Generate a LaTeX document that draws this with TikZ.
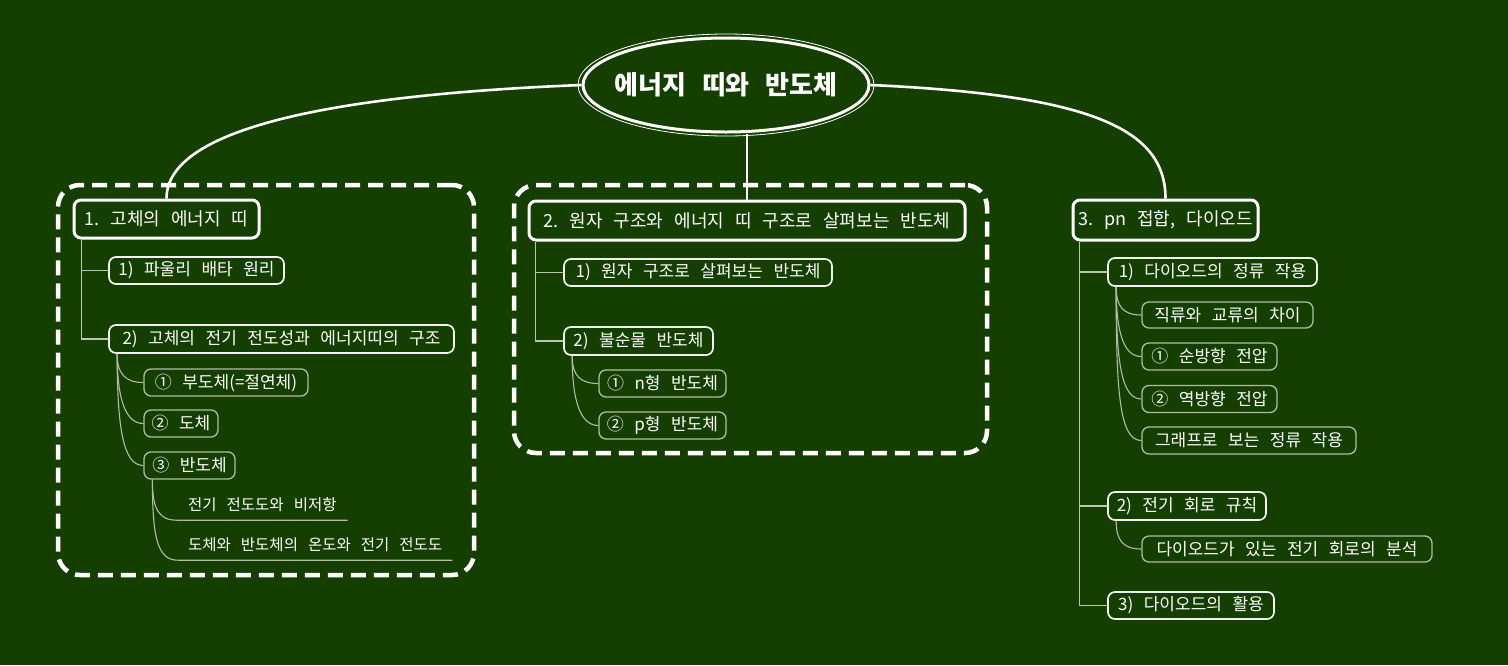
\documentclass[tikz,border=0pt]{standalone}
\usepackage{fontspec}
\setmainfont{Noto Sans CJK KR}
\usetikzlibrary{shapes.geometric}
\definecolor{bg}{HTML}{143F00}
\definecolor{lineg}{HTML}{BCC6B4}
\definecolor{subg}{HTML}{B0BCA8}
\frenchspacing
\newcommand\myrootfont{\fontsize{26}{30}\selectfont\bfseries\spaceskip 16pt\relax}
\newcommand\mytopfont{\fontsize{18}{21}\selectfont\spaceskip 11pt\relax}
\newcommand\mychildfont{\fontsize{17}{20}\selectfont\spaceskip 10.5pt\relax}
\newcommand\myulfont{\fontsize{15.5}{18}\selectfont\spaceskip 10pt\relax}
\begin{document}
\begin{tikzpicture}[x=1pt,y=-1pt,
  topbox/.style={draw=white,line width=3pt,rounded corners=7pt,text=white,
    font=\mytopfont,inner sep=0pt},
  childbox/.style={draw=white!94!bg,line width=1.7pt,rounded corners=7pt,text=white,
    font=\mychildfont,inner sep=0pt},
  subbox/.style={draw=subg,line width=1.3pt,rounded corners=7pt,text=white,
    font=\mychildfont,inner sep=0pt},
  ultext/.style={text=white,font=\myulfont,inner ysep=0pt,
    minimum height=30pt,anchor=west},
  mainconn/.style={draw=white,line width=2.6pt},
  childconn/.style={draw=lineg,line width=1.6pt},
  subconn/.style={draw=subg,line width=1.1pt},
  cloudframe/.style={draw=white,line width=4.5pt,dash pattern=on 15pt off 8pt,
    rounded corners=22pt,inner sep=0pt}
]
\fill[bg] (0,0) rectangle (1508,665);
\useasboundingbox (0,0) rectangle (1508,665);

% dashed group frames
\node[cloudframe,minimum width=416pt,minimum height=390pt] (g1) at (266,380) {};
\node[cloudframe,minimum width=473pt,minimum height=268pt] (g2) at (750.5,319) {};

% root
\node[ellipse,draw=white,line width=3pt,minimum width=286pt,minimum height=94pt,inner sep=0pt] (root) at (726,85) {};
\draw[white,line width=0.8pt] (root.center) ellipse [x radius=148, y radius=51];
\node[text=white,font=\myrootfont] (roottext) at (root.center) {에너지 띠와 반도체};

% top boxes
\node[topbox,minimum width=185pt,minimum height=38pt] (t1) at (166.5,219) {1. 고체의 에너지 띠};
\node[topbox,minimum width=436pt,minimum height=39pt] (t2) at (747,220.5) {2. 원자 구조와 에너지 띠 구조로 살펴보는 반도체};
\node[topbox,minimum width=185pt,minimum height=40pt] (t3) at (1165.5,220) {3. pn 접합, 다이오드};

% main connectors
\draw[mainconn] (root.west) .. controls +(-250,10) and +(0,-70) .. (t1.north);
\draw[mainconn] (t2.north) -- (t2.north |- root.south);
\draw[mainconn] (root.east) .. controls +(220,10) and +(0,-70) .. (t3.north);

% group 1
\node[childbox,minimum width=175pt,minimum height=27pt] (c1a) at (196.5,270.5) {1) 파울리 배타 원리};
\node[childbox,minimum width=345pt,minimum height=28pt] (c1b) at (281.5,339) {2) 고체의 전기 전도성과 에너지띠의 구조};
\node[subbox,minimum width=164pt,minimum height=27pt] (c1b1) at (226,382.5) {① 부도체(=절연체)};
\node[subbox,minimum width=74pt,minimum height=27pt] (c1b2) at (181,423.5) {② 도체};
\node[subbox,minimum width=91pt,minimum height=27pt] (c1b3) at (189.5,465.5) {③ 반도체};
\node[ultext,inner xsep=11pt] (u1) at (177,505) {전기 전도도와 비저항};
\node[ultext,inner xsep=10pt] (u2) at (178,545) {도체와 반도체의 온도와 전기 전도도};

\draw[childconn] ([xshift=9pt]t1.south west) |- (c1a.west);
\draw[childconn] ([xshift=9pt]t1.south west) |- (c1b.west);
\draw[subconn] ([xshift=9pt]c1b.south west) .. controls +(0,20) and +(-18,0) .. (c1b1.west);
\draw[subconn] ([xshift=9pt]c1b.south west) .. controls +(0,45) and +(-18,0) .. (c1b2.west);
\draw[subconn] ([xshift=9pt]c1b.south west) .. controls +(0,75) and +(-20,0) .. (c1b3.west);
\draw[subconn] ([xshift=9pt]c1b3.south west) .. controls +(0,30) and +(-18,0) .. (u1.south west) -- (u1.south east);
\draw[subconn] ([xshift=9pt]c1b3.south west) .. controls +(0,60) and +(-20,0) .. (u2.south west) -- (u2.south east);

% group 2
\node[childbox,minimum width=268pt,minimum height=27pt] (c2a) at (698,272.5) {1) 원자 구조로 살펴보는 반도체};
\node[childbox,minimum width=149pt,minimum height=28pt] (c2b) at (638.5,341) {2) 불순물 반도체};
\node[subbox,minimum width=127pt,minimum height=27pt] (c2b1) at (662.5,383.5) {① n형 반도체};
\node[subbox,minimum width=127pt,minimum height=27pt] (c2b2) at (662.5,425.5) {② p형 반도체};

\draw[childconn] ([xshift=8pt]t2.south west) |- (c2a.west);
\draw[childconn] ([xshift=8pt]t2.south west) |- (c2b.west);
\draw[subconn] ([xshift=9pt]c2b.south west) .. controls +(0,20) and +(-18,0) .. (c2b1.west);
\draw[subconn] ([xshift=9pt]c2b.south west) .. controls +(0,45) and +(-18,0) .. (c2b2.west);

% group 3
\node[childbox,minimum width=209pt,minimum height=28pt] (c3a) at (1212.5,272) {1) 다이오드의 정류 작용};
\node[subbox,minimum width=171pt,minimum height=26pt] (c3a1) at (1227.5,315) {직류와 교류의 차이};
\node[subbox,minimum width=135pt,minimum height=27pt] (c3a2) at (1209.5,356.5) {① 순방향 전압};
\node[subbox,minimum width=135pt,minimum height=27pt] (c3a3) at (1209.5,399) {② 역방향 전압};
\node[subbox,minimum width=214pt,minimum height=27pt] (c3a4) at (1249,440.5) {그래프로 보는 정류 작용};
\node[childbox,minimum width=158pt,minimum height=28pt] (c3b) at (1187,506) {2) 전기 회로 규칙};
\node[subbox,minimum width=290pt,minimum height=26pt] (c3b1) at (1287,549) {다이오드가 있는 전기 회로의 분석};
\node[childbox,minimum width=166pt,minimum height=27pt] (c3c) at (1191,605.5) {3) 다이오드의 활용};

\draw[childconn] ([xshift=8pt]t3.south west) |- (c3a.west);
\draw[childconn] ([xshift=8pt]t3.south west) |- (c3b.west);
\draw[childconn] ([xshift=8pt]t3.south west) |- (c3c.west);
\draw[subconn] ([xshift=9pt]c3a.south west) .. controls +(0,20) and +(-18,0) .. (c3a1.west);
\draw[subconn] ([xshift=9pt]c3a.south west) .. controls +(0,45) and +(-18,0) .. (c3a2.west);
\draw[subconn] ([xshift=9pt]c3a.south west) .. controls +(0,75) and +(-20,0) .. (c3a3.west);
\draw[subconn] ([xshift=9pt]c3a.south west) .. controls +(0,105) and +(-22,0) .. (c3a4.west);
\draw[subconn] ([xshift=9pt]c3b.south west) .. controls +(0,20) and +(-18,0) .. (c3b1.west);
\end{tikzpicture}
\end{document}
